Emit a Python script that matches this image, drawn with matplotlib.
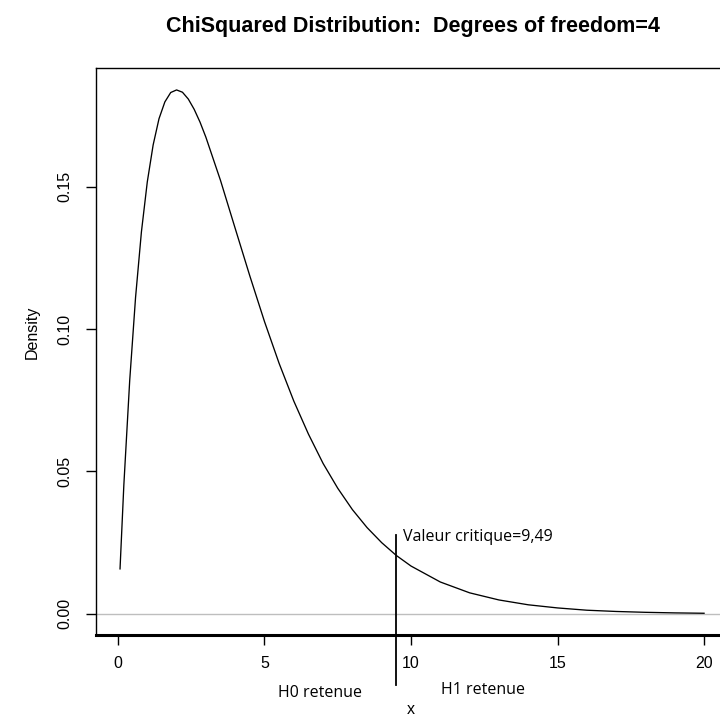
import numpy as np
import matplotlib.pyplot as plt

# Chi-squared density, df = 4
x_vals = [0.07, 0.2, 0.4, 0.6, 0.8, 1.0, 1.2, 1.4, 1.6, 1.8, 2.0, 2.2, 2.4, 2.6, 2.8, 3.0,
          3.5, 4.0, 4.5, 5.0, 5.5, 6.0, 6.5, 7.0, 7.5, 8.0, 8.5, 9.0, 9.5, 10,
          11, 12, 13, 14, 15, 16, 17, 18, 19, 20]
density = [0.0158, 0.0452, 0.0819, 0.1111, 0.1341, 0.1516, 0.1646, 0.1738, 0.1797, 0.1830,
           0.1839, 0.1831, 0.1807, 0.1771, 0.1726, 0.1673,
           0.1521, 0.1353, 0.1186, 0.1026, 0.0879, 0.0747, 0.0631, 0.0528, 0.0441, 0.0366,
           0.0303, 0.0250, 0.0205, 0.0168,
           0.0112, 0.0074, 0.0049, 0.0032, 0.0021, 0.0013, 0.00086, 0.00056, 0.00036, 0.00023]

critical_value = 9.49
critical_label = "Valeur critique=9,49"
x_ticks = [0, 5, 10, 15, 20]
y_ticks = [0.00, 0.05, 0.10, 0.15]

W, H = 720, 717
fig = plt.figure(figsize=(W / 100, H / 100), dpi=100)
ax = fig.add_axes([96 / W, (H - 635) / H, 631.5 / W, 567 / H])

ax.axhline(0, color="#bebebe", lw=1.0, zorder=1)
ax.plot(x_vals, density, color="black", lw=0.95, zorder=2)
ax.plot([critical_value, critical_value], [0.0277, -0.0249], color="black", lw=1.3,
        clip_on=False, zorder=3)

side_font = ["Open Sans", "DejaVu Sans"]
ax.text(9.73, 0.027, critical_label, fontsize=11.5, family=side_font, va="center", ha="left")
ax.text(6.89, -0.0278, "H0 retenue", fontsize=11.5, family=side_font, va="center",
        ha="center", clip_on=False)
ax.text(12.46, -0.0268, "H1 retenue", fontsize=11.5, family=side_font, va="center",
        ha="center", clip_on=False)

ax.set_xlim(-0.75, 20.8)
ax.set_ylim(-0.0074, 0.1916)
ax.set_xticks(x_ticks)
ax.set_xticklabels([str(t) for t in x_ticks])
ax.set_yticks(y_ticks)
ax.set_yticklabels([f"{t:.2f}" for t in y_ticks], rotation=90, va="center")

for side in ["top", "left", "right"]:
    ax.spines[side].set_linewidth(1.0)
ax.spines["bottom"].set_linewidth(2.2)
ax.tick_params(direction="out", length=7, width=1.0, labelsize=11.5, pad=8)
ax.tick_params(axis="y", pad=10)
for lab in ax.get_xticklabels() + ax.get_yticklabels():
    lab.set_family("Liberation Sans")

fig.text(413 / W, 1 - 32 / H, "ChiSquared Distribution:  Degrees of freedom=4",
         fontsize=15.5, fontweight="bold", family="Liberation Sans", ha="center",
         va="baseline")
fig.text(411 / W, 1 - 709 / H, "x", fontsize=11.5, family="Liberation Sans",
         ha="center", va="center")
fig.text(32 / W, 1 - 332 / H, "Density", fontsize=11.5, family="Liberation Sans",
         rotation=90, ha="center", va="center")

fig.savefig("out.png", dpi=100)
